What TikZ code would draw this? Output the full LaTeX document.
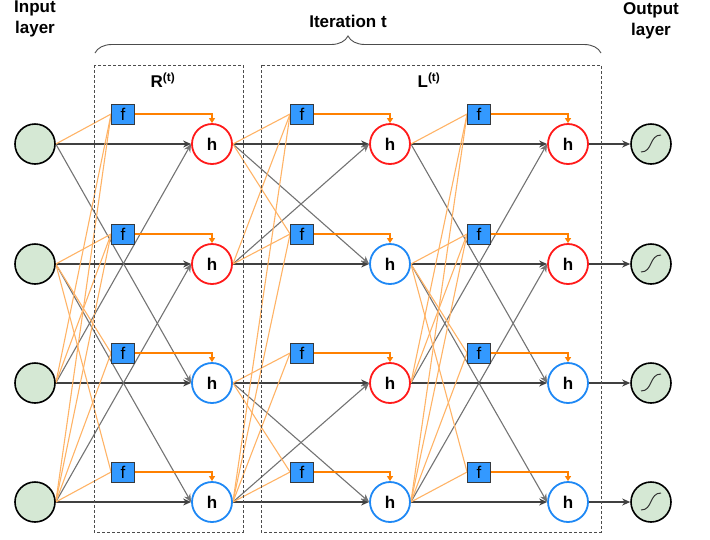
\documentclass[tikz,border=0pt]{standalone}
\usepackage{fontspec}
\setmainfont{Liberation Sans}
\usetikzlibrary{arrows.meta,decorations.pathreplacing,backgrounds}

\definecolor{cellgreen}{HTML}{D5E8D4}
\definecolor{hred}{HTML}{FF1A1A}
\definecolor{hblue}{HTML}{1E88F5}
\definecolor{fblue}{HTML}{3399FF}
\definecolor{fedge}{HTML}{36393D}
\definecolor{gateorange}{HTML}{FF8000}
\definecolor{feedorange}{HTML}{FFB366}

\tikzset{
  cell/.style={circle,draw=black,line width=1.6pt,fill=cellgreen,minimum size=40pt,inner sep=0pt},
  hnode/.style={circle,line width=1.8pt,fill=white,minimum size=40pt,inner sep=0pt,font=\fontsize{17}{17}\selectfont\bfseries},
  fbox/.style={rectangle,draw=fedge,line width=0.8pt,fill=fblue,minimum width=23pt,minimum height=20pt,inner sep=0pt,font=\fontsize{17}{17}\selectfont},
  link/.style={draw=black!75,line width=1.1pt,-{Stealth[length=8pt,width=7pt]}},
  cross/.style={draw=black!55,line width=1.1pt,-{Stealth[length=8pt,width=7pt]}},
  feed/.style={draw=feedorange,line width=1.1pt},
  gate/.style={draw=gateorange,line width=1.1pt,-{Triangle[length=5pt,width=6pt]}},
  region/.style={draw=black!70,densely dashed,line width=0.9pt},
  title/.style={font=\fontsize{17}{21}\selectfont\bfseries,align=center}
}

\begin{document}
\begin{tikzpicture}[x=1pt,y=-1pt]
  \useasboundingbox (0,0) rectangle (710,539);

  % iteration frame
  \draw[region] (94,65) rectangle (243,532);
  \draw[region] (261,65) rectangle (601,532);
  \draw[decorate,decoration={brace,amplitude=17pt},draw=black!70,line width=0.9pt] (95,53) -- (601,53);
  \node[title] (iter) at (348,21) {Iteration t};
  \node[title] (rlabel) at (163,80) {R\textsuperscript{(t)}};
  \node[title] (llabel) at (429,80) {L\textsuperscript{(t)}};
  \node[title] (inlabel) at (35,19) {Input\\layer};
  \node[title] (outlabel) at (651,21) {Output\\layer};

  % cells, one row at a time
  \foreach \r/\y/\ca/\cb/\cc in {1/144/hred/hred/hred,2/264/hred/hblue/hred,3/383/hblue/hred/hblue,4/502/hblue/hblue/hblue} {
    \node[cell] (in\r) at (35,\y) {};
    \node[fbox] (fa\r) at (123,\y-30) {f};
    \node[hnode,draw=\ca] (ha\r) at (212,\y) {h};
    \node[fbox] (fb\r) at (302,\y-30) {f};
    \node[hnode,draw=\cb] (hb\r) at (390,\y) {h};
    \node[fbox] (fc\r) at (479,\y-30) {f};
    \node[hnode,draw=\cc] (hc\r) at (568,\y) {h};
    \node[cell] (out\r) at (651,\y) {};
    \draw[line width=1pt,black!80] (out\r.center) ++(-10,8) .. controls +(12,0) and +(-12,0) .. ++(20,-17);
  }

  \begin{scope}[on background layer]
    % straight and crossing links
    \foreach \a/\b in {1/3,2/4,3/1,4/2} {
      \draw[link] (in\a.east) -- (ha\a.west);
      \draw[cross] (in\b.east) -- (ha\a.west);
      \draw[link] (hb\a.east) -- (hc\a.west);
      \draw[cross] (hb\b.east) -- (hc\a.west);
    }
    \foreach \a/\b in {1/2,2/1,3/4,4/3} {
      \draw[link] (ha\a.east) -- (hb\a.west);
      \draw[cross] (ha\b.east) -- (hb\a.west);
    }
    % inputs of the f boxes
    \foreach \f/\s in {1/1,1/3,1/4,2/2,2/3,2/4,3/2,3/4,4/2,4/4} {
      \draw[feed] (in\s.east) -- (fa\f.west);
      \draw[feed] (hb\s.east) -- (fc\f.west);
    }
    \foreach \f/\s in {1/1,1/2,1/4,2/1,2/2,2/4,3/3,3/4,4/3,4/4}
      \draw[feed] (ha\s.east) -- (fb\f.west);
    % f into h, and h into the output
    \foreach \r in {1,...,4} {
      \draw[gate] (fa\r.east) -| (ha\r.north);
      \draw[gate] (fb\r.east) -| (hb\r.north);
      \draw[gate] (fc\r.east) -| (hc\r.north);
      \draw[link] (hc\r.east) -- (out\r.west);
    }
  \end{scope}
\end{tikzpicture}
\end{document}
